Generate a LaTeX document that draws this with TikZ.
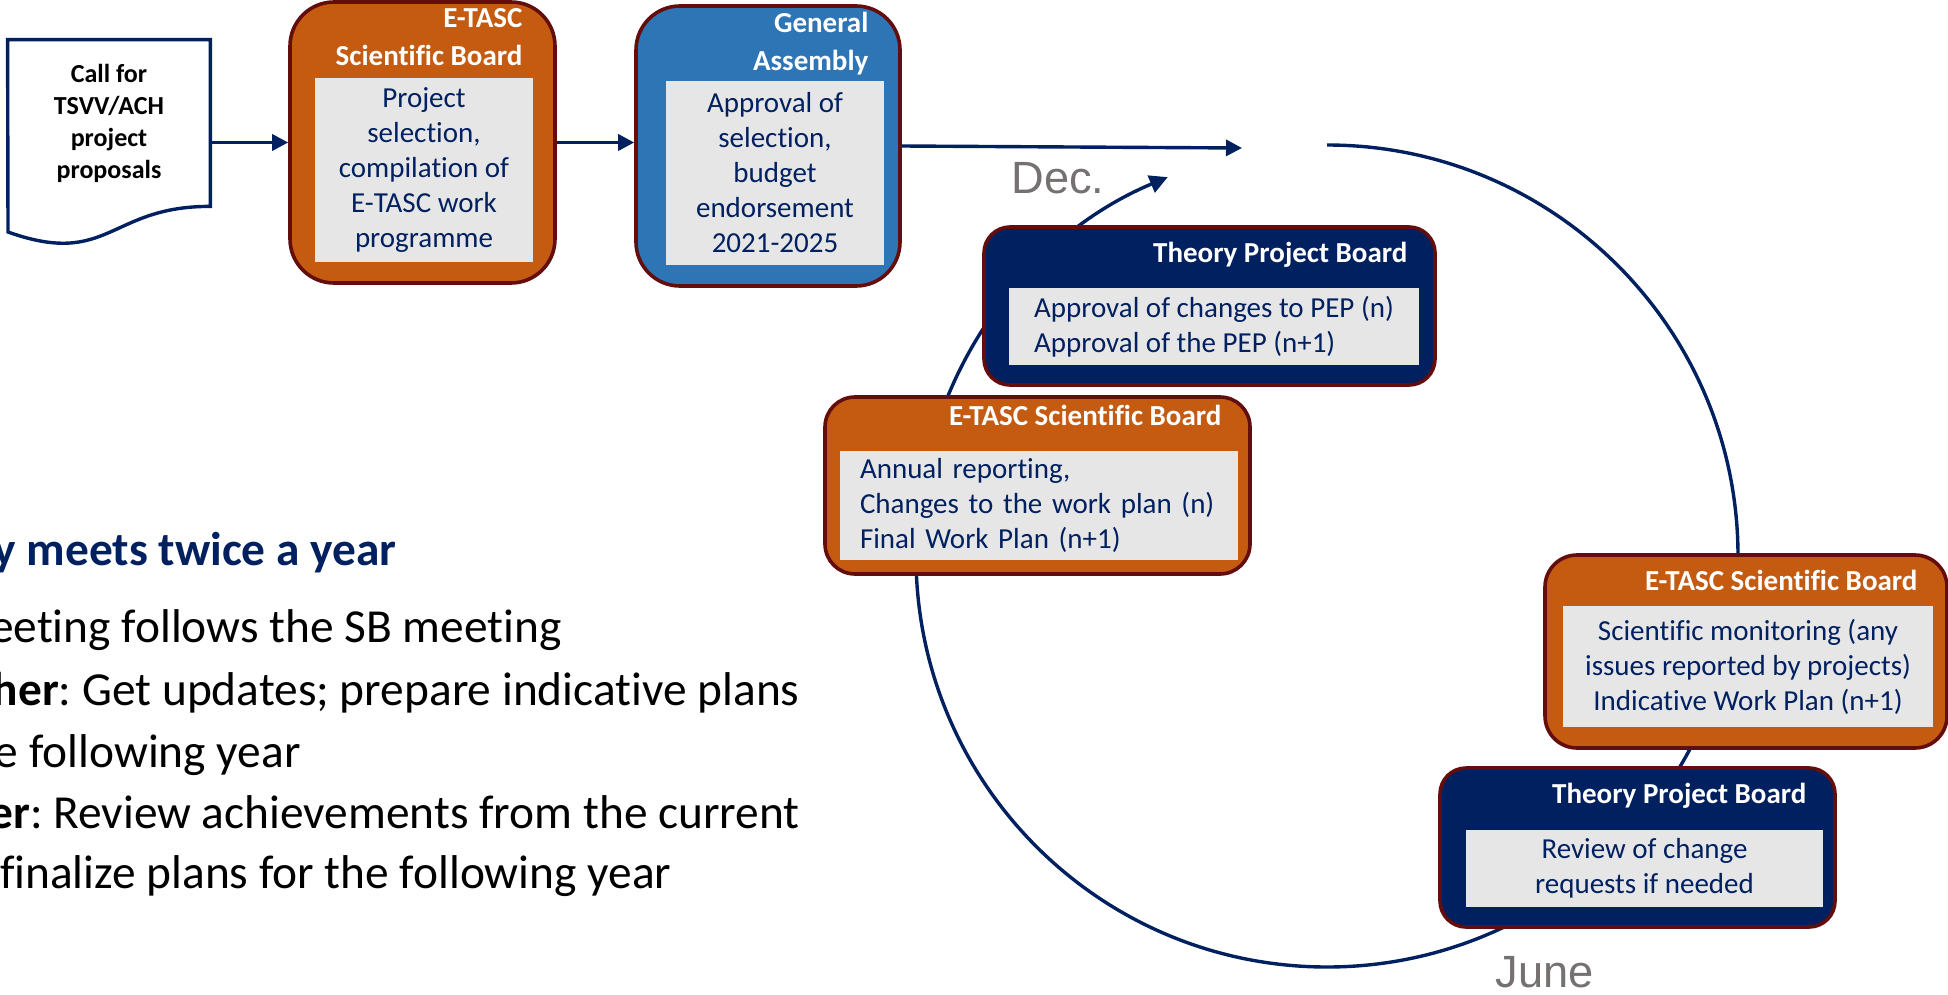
\documentclass[tikz,border=0pt]{standalone}
\usepackage{fontspec}
\setmainfont{Carlito}[Ligatures=NoCommon]
\newfontfamily\arialfont{Liberation Sans}
\usetikzlibrary{positioning,arrows.meta}
\definecolor{etorange}{HTML}{C55A11}
\definecolor{gablue}{HTML}{2E75B6}
\definecolor{navy}{HTML}{002060}
\definecolor{maroon}{HTML}{640D0D}
\definecolor{panel}{HTML}{E7E6E6}
\definecolor{mgray}{HTML}{767171}
\frenchspacing

\begin{document}
\begin{tikzpicture}[x=0.5pt,y=0.5pt,
  board/.style={draw=maroon,line width=1.8pt,rounded corners=#1,inner sep=0pt},
  sb/.style={board=#1,fill=etorange},
  ga/.style={board=#1,fill=gablue},
  tp/.style={board=#1,fill=navy},
  ttl/.style={anchor=north east,text=white,font=\bfseries\fontsize{14.5}{19}\selectfont,align=right,inner sep=0pt},
  inbox/.style={fill=panel,text=navy,font=\fontsize{14.5}{17.5}\selectfont,inner sep=0pt,align=center},
  flow/.style={draw=navy,line width=1.7pt,-{Triangle[length=8pt,width=8pt]}},
  cyc/.style={draw=navy,line width=1.7pt,-{Triangle[length=9pt,width=9pt]}},
  month/.style={anchor=base west,text=mgray,font=\arialfont\fontsize{22.6}{27}\selectfont,inner sep=0pt},
  note/.style={anchor=base east,inner sep=0pt,font=\fontsize{23.7}{28}\selectfont}]
\useasboundingbox (0,0) rectangle (1948,-995);

% yearly cycle
\coordinate (ctr) at (1327,-556);
\draw[cyc] ([shift={(90:205.5pt)}]ctr) arc[start angle=90,end angle=-247.2,radius=205.5pt];
\node[month] (dec) at (1011,-193) {Dec.};
\node[month] (june) at (1495,-987) {June};

% call for proposals
\node[font=\bfseries\fontsize{13}{16}\selectfont,align=center,minimum width=101pt,minimum height=83pt,inner sep=0pt] (call) at (109,-123) {Call for\\TSVV/ACH\\project\\proposals};
\draw[navy,line width=1.7pt] (call.north west) -- (call.north east) -- (call.south east)
  .. controls (109,-206) and (109,-268) .. (8,-232) -- cycle;

% selection and approval
\node[sb=22pt,minimum width=132.5pt,minimum height=140.5pt] (sb1) at (422.5,-142.5) {};
\node[ttl] (sb1t) at ([shift={(-34,-8)}]sb1.north east) {E-TASC\\Scientific Board};
\node[inbox,minimum width=109pt,minimum height=92pt] (sb1b) at (424,-170) {Project\\selection,\\compilation of\\E-TASC work\\programme};

\node[ga=22pt,minimum width=132pt,minimum height=140pt] (ga) at (768,-146) {};
\node[ttl] (gat) at ([shift={(-33,-8)}]ga.north east) {General\\Assembly};
\node[inbox,minimum width=109pt,minimum height=92pt] (gab) at (775,-173) {Approval of\\selection,\\budget\\endorsement\\2021-2025};

\draw[flow] (call.east |- sb1.west) -- (sb1.west);
\draw[flow] (sb1.east) -- (sb1.east -| ga.west);
\coordinate (gap) at (1242,-148);
\draw[flow] (ga.east) -- (gap);

% boards on the cycle
\node[tp=13pt,minimum width=225.5pt,minimum height=79pt] (tp1) at (1209.5,-306) {};
\node[ttl] (tp1t) at ([shift={(-29,-17)}]tp1.north east) {Theory Project Board};
\node[inbox,align=left,minimum width=205pt,minimum height=38.5pt] (tp1b) at (1214,-326.5) {Approval of changes to PEP (n)\\Approval of the PEP (n+1)};

\node[sb=15pt,minimum width=212.5pt,minimum height=88.5pt] (sb2) at (1037.5,-485.5) {};
\node[ttl] (sb2t) at ([shift={(-30,-10)}]sb2.north east) {E-TASC Scientific Board};
\node[inbox,align=left,text width=179pt,inner xsep=10pt,minimum height=54.5pt] (sb2b) at (1039,-505.5) {Annual reporting,\\Changes to the work plan (n)\\Final Work Plan (n+1)};

\node[sb=16pt,minimum width=201pt,minimum height=96.5pt] (sb3) at (1746,-651.5) {};
\node[ttl] (sb3t) at ([shift={(-31,-17)}]sb3.north east) {E-TASC Scientific Board};
\node[inbox,minimum width=185pt,minimum height=60.5pt] (sb3b) at (1748,-666.5) {Scientific monitoring (any\\issues reported by projects)\\Indicative Work Plan (n+1)};

\node[tp=13pt,minimum width=197.5pt,minimum height=79.5pt] (tp2) at (1637.5,-847.5) {};
\node[ttl] (tp2t) at ([shift={(-30,-17)}]tp2.north east) {Theory Project Board};
\node[inbox,minimum width=178.5pt,minimum height=38.5pt] (tp2b) at (1644.5,-868.5) {Review of change\\requests if needed};

% notes on the left
\node[note,text=navy,font=\bfseries\fontsize{23.7}{28}\selectfont] (n1) at (397,-565) {y meets twice a year};
\node[note] (n2) at (562,-642) {eeting follows the SB meeting};
\node[note] (n3) at (800,-705) {\textbf{her}: Get updates; prepare indicative plans};
\node[note] (n4) at (301,-767) {e following year};
\node[note] (n5) at (800,-828) {\textbf{er}: Review achievements from the current};
\node[note] (n6) at (672,-888) {finalize plans for the following year};
\end{tikzpicture}
\end{document}
